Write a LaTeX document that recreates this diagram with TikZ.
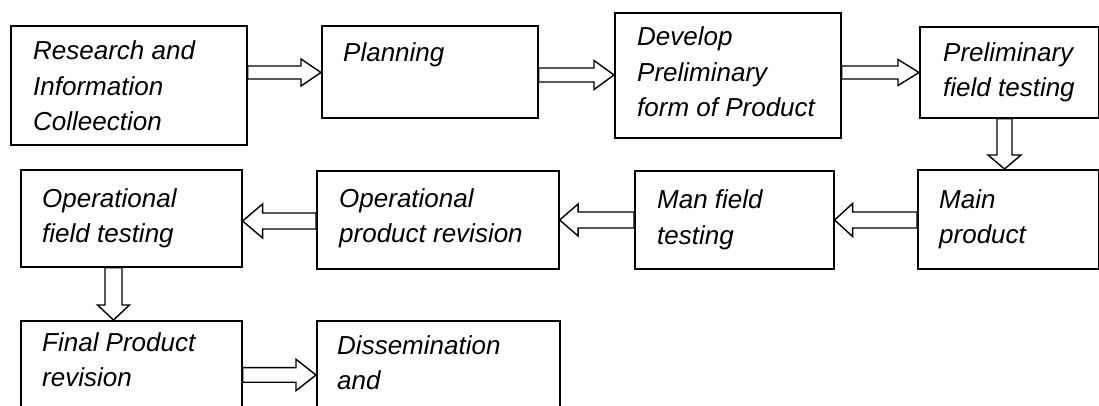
\documentclass[tikz,border=0pt]{standalone}
\usepackage{fontspec}
\setmainfont{Liberation Sans}
\usetikzlibrary{calc}
\tikzset{
  box/.style={draw, line width=1.6pt, inner sep=0pt, anchor=north west},
  lbl/.style={font=\fontsize{26}{35.5}\selectfont\itshape, align=left, anchor=base west, inner sep=0pt},
  arr/.style={draw, line width=1.4pt, fill=white, line join=miter},
}
% horizontal block arrow: from anchor, to anchor, level Y, shaft half, head half, head length
\newcommand\harr[6]{%
  \draw[arr] let \p1=(#1), \p2=(#2), \n1={sign(\x2-\x1)} in
    (\x1,{#3+#4}) -- ({\x2-\n1*#6},{#3+#4}) -- ({\x2-\n1*#6},{#3+#5}) -- (\x2,#3)
    -- ({\x2-\n1*#6},{#3-#5}) -- ({\x2-\n1*#6},{#3-#4}) -- (\x1,{#3-#4}) -- cycle;}
% vertical block arrow: from anchor, to anchor, level X, shaft half, head half, head length
\newcommand\varr[6]{%
  \draw[arr] let \p1=(#1), \p2=(#2), \n1={sign(\y2-\y1)} in
    ({#3-#4},\y1) -- ({#3-#4},{\y2-\n1*#6}) -- ({#3-#5},{\y2-\n1*#6}) -- (#3,\y2)
    -- ({#3+#5},{\y2-\n1*#6}) -- ({#3+#4},{\y2-\n1*#6}) -- ({#3+#4},\y1) -- cycle;}
\begin{document}
\begin{tikzpicture}[x=1pt,y=1pt]
\useasboundingbox (0,0) rectangle (1099,406);
\fill[white] (0,0) rectangle (1099,406);
\clip (0,0) rectangle (1099,406);
% boxes
\node[box, minimum width=236pt, minimum height=119pt] (b1) at (10,381) {};
\node[box, minimum width=216pt, minimum height=92pt] (b2) at (321,381) {};
\node[box, minimum width=226pt, minimum height=125pt] (b3) at (614,394) {};
\node[box, minimum width=179pt, minimum height=91pt] (b4) at (919,380) {};
\node[box, minimum width=181pt, minimum height=99pt] (b5) at (917,237) {};
\node[box, minimum width=199pt, minimum height=98pt] (b6) at (634,236) {};
\node[box, minimum width=242pt, minimum height=98pt] (b7) at (316,236) {};
\node[box, minimum width=221pt, minimum height=97pt] (b8) at (20,237) {};
\node[box, minimum width=221pt, minimum height=110pt] (b9) at (20,86) {};
\node[box, minimum width=243pt, minimum height=110pt] (b10) at (316,86) {};
% labels (anchored at the baseline of their last line)
\node[lbl] (t1) at (33,275) {Research and\\Information\\Colleection};
\node[lbl] (t2) at (343,344) {Planning};
\node[lbl] (t3) at (637,289) {Develop\\Preliminary\\form of Product};
\node[lbl] (t4) at (943,309) {Preliminary\\field testing};
\node[lbl] (t5) at (939,162) {Main\\product};
\node[lbl] (t6) at (657,161.5) {Man field\\testing};
\node[lbl] (t7) at (339,163) {Operational\\product revision};
\node[lbl] (t8) at (42,163) {Operational\\field testing};
\node[lbl] (t9) at (42,19) {Final Product\\revision};
\node[lbl] (t10) at (337,16) {Dissemination\\and};
% arrows
\harr{b1.east}{b2.west}{333.5}{6.5}{13.5}{20}
\harr{b2.east}{b3.west}{331}{7}{14.5}{20}
\harr{b3.east}{b4.west}{333.5}{6.5}{13}{21}
\varr{b4.south}{b5.north}{1004.5}{7.5}{16.5}{14}
\harr{b5.west}{b6.east}{186}{8}{16.5}{18}
\harr{b6.west}{b7.east}{186}{8}{16}{18.5}
\harr{b7.west}{b8.east}{185}{8}{17}{20}
\varr{b8.south}{b9.north}{113.5}{8.5}{16}{15}
\harr{b9.east}{b10.west}{31}{7.3}{15.7}{20}
\end{tikzpicture}
\end{document}
